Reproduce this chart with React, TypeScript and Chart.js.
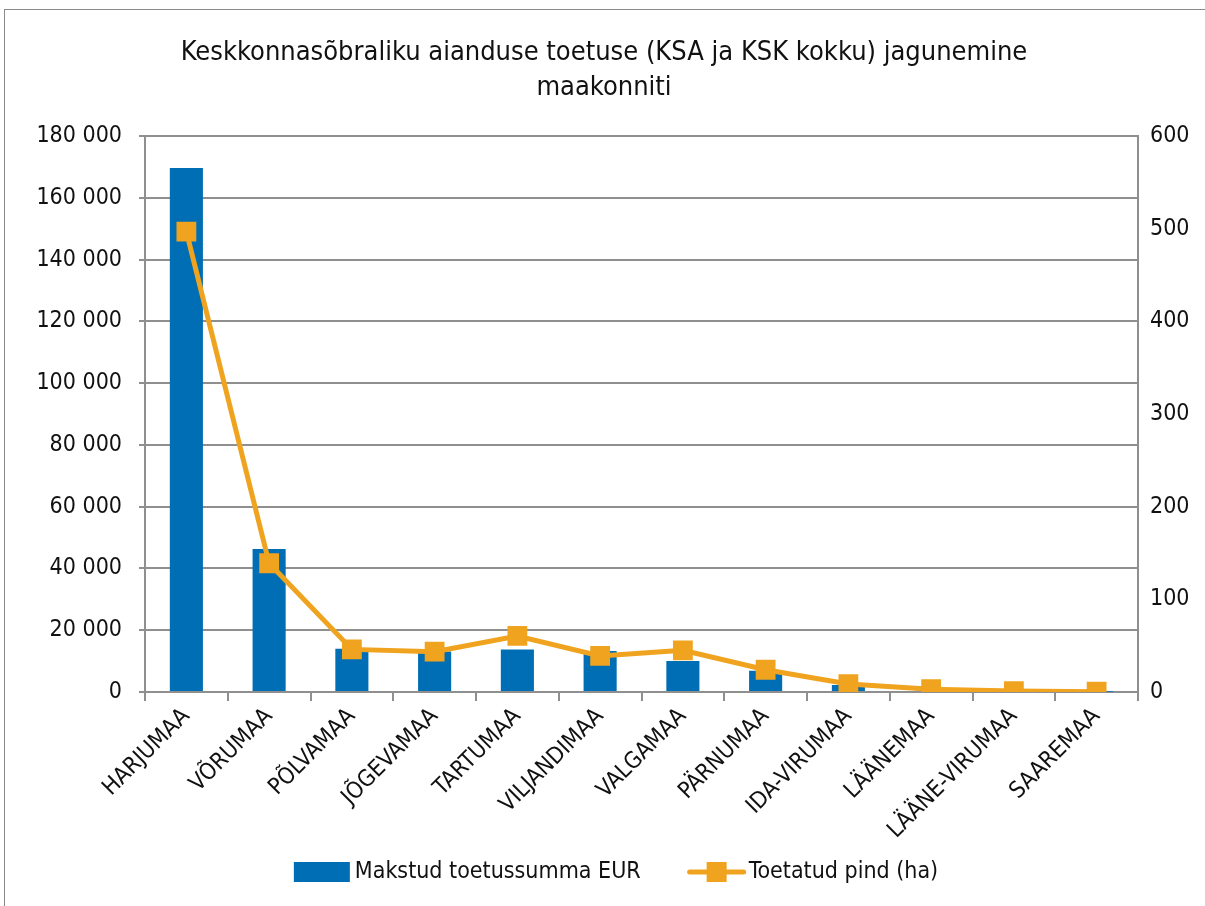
import React, { useEffect, useRef } from "react";
import { Chart, registerables } from "chart.js";

Chart.register(...registerables);

const categories = [
  "HARJUMAA", "VÕRUMAA", "PÕLVAMAA", "JÕGEVAMAA", "TARTUMAA", "VILJANDIMAA",
  "VALGAMAA", "PÄRNUMAA", "IDA-VIRUMAA", "LÄÄNEMAA", "LÄÄNE-VIRUMAA", "SAAREMAA",
];
const paidEur = [169700, 46300, 14000, 13100, 13800, 13300, 10000, 6900, 2300, 400, 150, 60];
const areaHa = [497, 139, 46, 43.5, 60.5, 39, 45, 24, 8.6, 3, 1, 0.3];
const leftTicks = [0, 20000, 40000, 60000, 80000, 100000, 120000, 140000, 160000, 180000];
const rightTicks = [0, 100, 200, 300, 400, 500, 600];

const titleLines = ["Keskkonnasõbraliku aianduse toetuse (KSA ja KSK kokku) jagunemine", "maakonniti"];
const barLabel = "Makstud toetussumma EUR";
const lineLabel = "Toetatud pind (ha)";

const BLUE = "#006EB4";
const ORANGE = "#F0A31E";
const GRID = "#8f8f8f";
const TEXT = "#111";
const FONT = "'Liberation Sans Narrow', 'DejaVu Sans Condensed', Roboto, sans-serif";

function fmt(v: number) {
  return String(v).replace(/\B(?=(\d{3})+(?!\d))/g, " ");
}

const legendPlugin = {
  id: "excelLegend",
  afterDraw(chart: any) {
    const ctx = chart.ctx as CanvasRenderingContext2D;
    ctx.save();
    ctx.font = `23px ${FONT}`;
    ctx.textBaseline = "middle";
    ctx.textAlign = "left";
    const w1 = ctx.measureText(barLabel).width;
    const w2 = ctx.measureText(lineLabel).width;
    const total = 56 + 5 + w1 + 47 + 58 + 3 + w2;
    let x = chart.width / 2 + 12 - total / 2;
    const cy = chart.height - 34;
    ctx.fillStyle = BLUE;
    ctx.fillRect(x, cy - 10, 56, 20);
    x += 61;
    ctx.fillStyle = TEXT;
    ctx.fillText(barLabel, x, cy);
    x += w1 + 47;
    ctx.strokeStyle = ORANGE;
    ctx.lineWidth = 5;
    ctx.lineCap = "round";
    ctx.beginPath();
    ctx.moveTo(x + 2, cy);
    ctx.lineTo(x + 56, cy);
    ctx.stroke();
    ctx.fillStyle = ORANGE;
    ctx.fillRect(x + 19, cy - 10, 20, 20);
    x += 61;
    ctx.fillStyle = TEXT;
    ctx.fillText(lineLabel, x, cy);
    ctx.restore();
  },
};

export default function App() {
  const ref = useRef<HTMLCanvasElement>(null);
  useEffect(() => {
    const chart = new Chart(ref.current!, {
      data: {
        labels: categories,
        datasets: [
          {
            type: "line",
            label: lineLabel,
            data: areaHa,
            yAxisID: "y1",
            borderColor: ORANGE,
            backgroundColor: ORANGE,
            borderWidth: 5,
            pointStyle: "rect",
            pointRadius: 14,
            pointBorderWidth: 0,
            order: 0,
          } as any,
          {
            type: "bar",
            label: barLabel,
            data: paidEur,
            yAxisID: "y",
            backgroundColor: BLUE,
            barPercentage: 0.4,
            categoryPercentage: 1,
            order: 1,
          } as any,
        ],
      },
      plugins: [legendPlugin],
      options: {
        animation: false,
        responsive: false,
        maintainAspectRatio: false,
        layout: { padding: { left: 0, right: 0, top: 0, bottom: 62 } },
        plugins: {
          title: {
            display: true,
            text: titleLines,
            color: TEXT,
            font: { family: FONT, size: 27, weight: "normal", lineHeight: 1.3 },
            padding: { top: 25, bottom: 31 },
          },
          legend: { display: false },
          tooltip: { enabled: false },
        },
        scales: {
          x: {
            offset: true,
            grid: { display: true, offset: true, drawOnChartArea: false, tickLength: 9, color: GRID, lineWidth: 2 },
            border: { display: true, color: GRID, width: 2 },
            ticks: {
              color: TEXT,
              font: { family: FONT, size: 23 },
              minRotation: 45,
              maxRotation: 45,
              autoSkip: false,
              padding: 2,
            },
            afterFit: (s: any) => { s.height = 152; },
          },
          y: {
            position: "left",
            min: 0,
            max: 180000,
            afterBuildTicks: (s: any) => { s.ticks = leftTicks.map((v) => ({ value: v })); },
            grid: { color: GRID, lineWidth: 2, tickLength: 6 },
            border: { display: true, color: GRID, width: 2 },
            ticks: {
              color: TEXT,
              font: { family: FONT, size: 23 },
              padding: 17,
              callback: (v: any) => fmt(Number(v)),
            },
            afterFit: (s: any) => { s.width = 140; },
          },
          y1: {
            position: "right",
            min: 0,
            max: 600,
            afterBuildTicks: (s: any) => { s.ticks = rightTicks.map((v) => ({ value: v })); },
            grid: { display: false, drawOnChartArea: false, tickLength: 6, color: GRID },
            border: { display: true, color: GRID, width: 2 },
            ticks: {
              color: TEXT,
              font: { family: FONT, size: 23 },
              padding: 6,
              callback: (v: any) => String(v),
            },
            afterFit: (s: any) => { s.width = 65; },
          },
        },
      },
    });
    return () => chart.destroy();
  }, []);
  return (
    <div style={{ position: "absolute", left: 4, top: 9, width: 1200, height: 897, border: "1px solid #8a8a8a", background: "#fff" }}>
      <canvas ref={ref} width={1198} height={896} style={{ display: "block" }} />
    </div>
  );
}
